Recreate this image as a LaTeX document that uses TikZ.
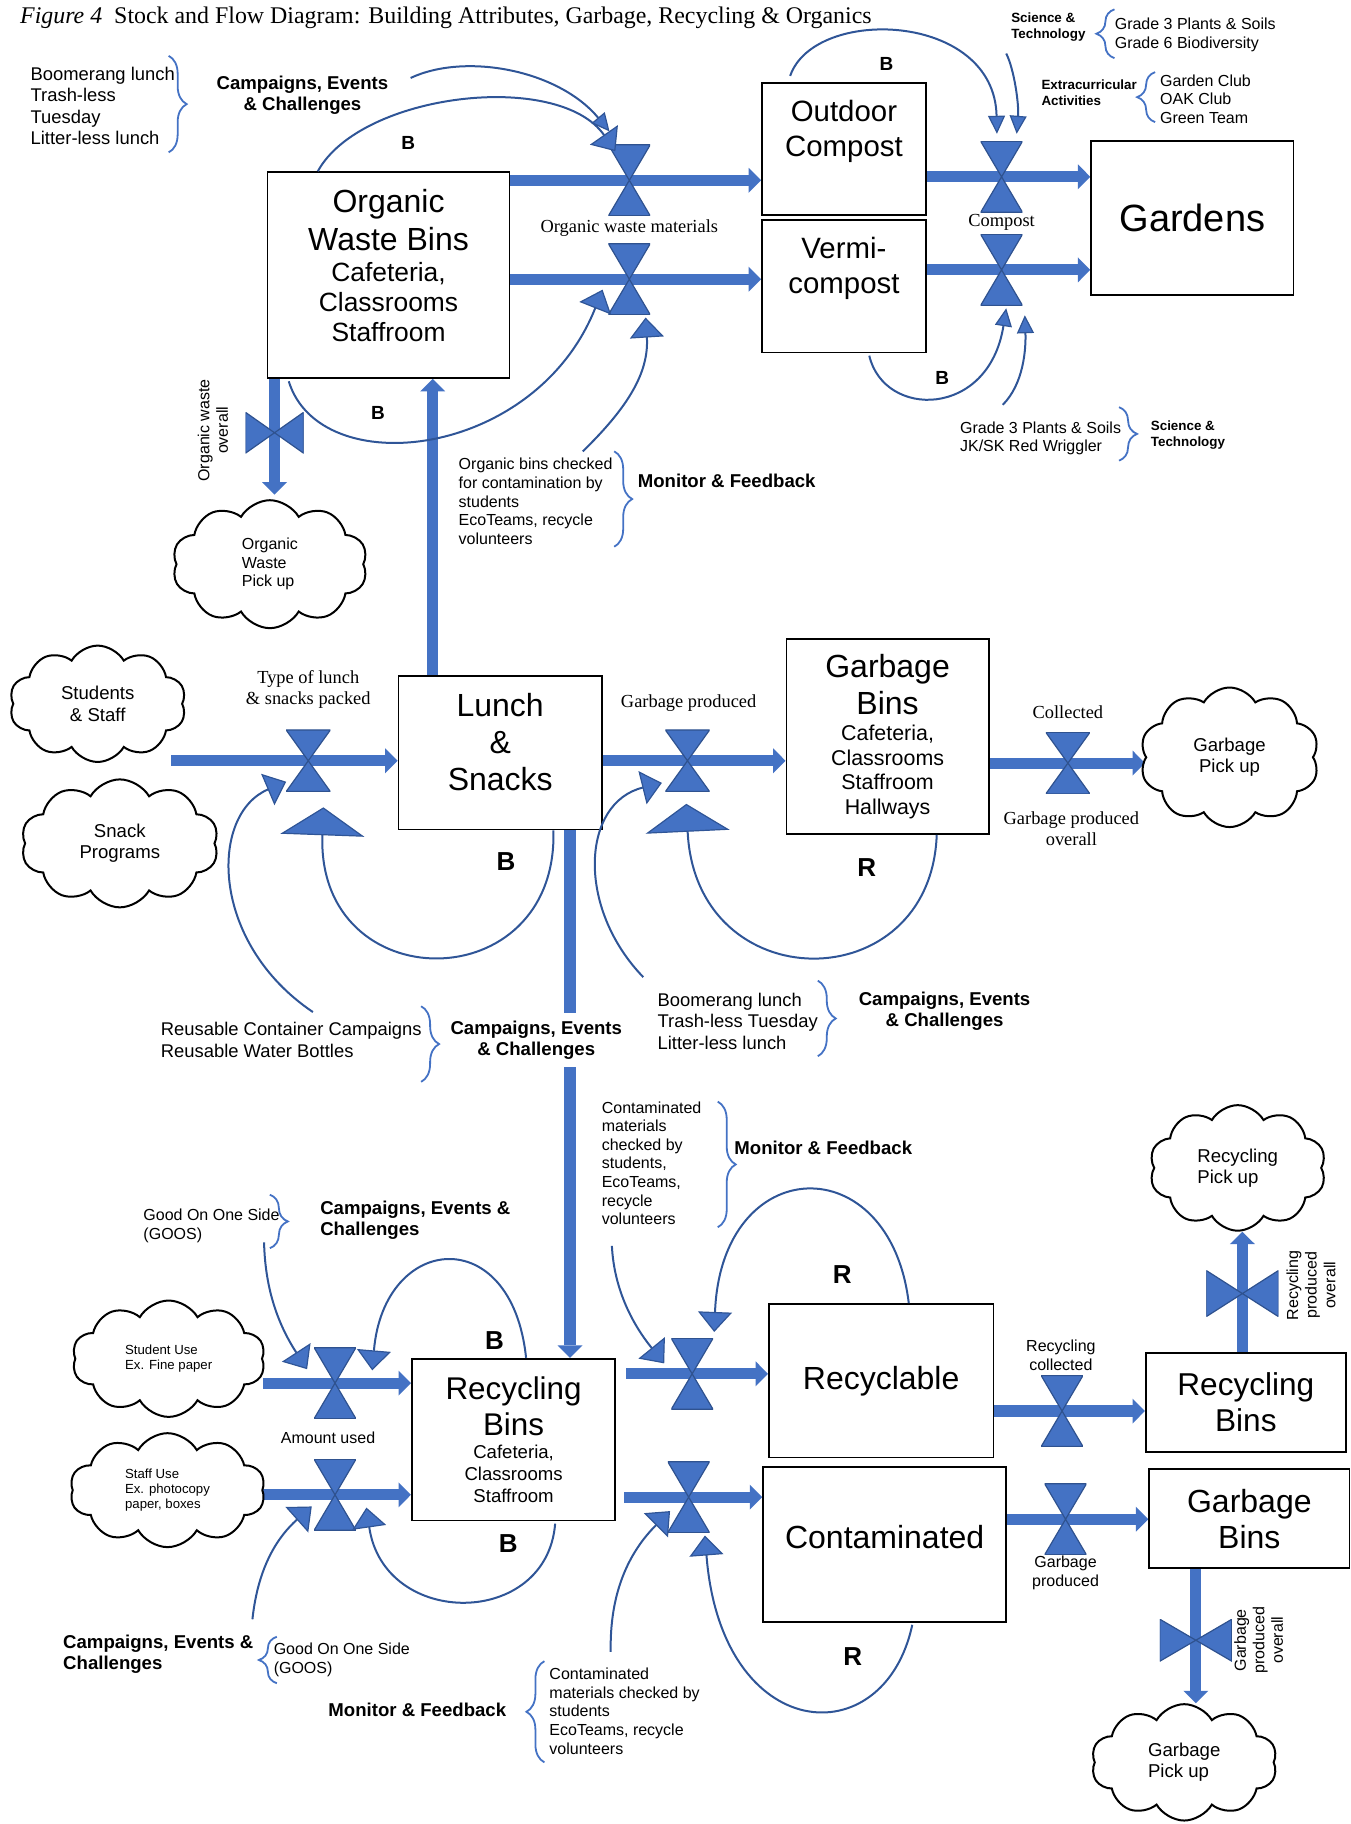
\documentclass[tikz,border=0pt]{standalone}
\usepackage{fontspec}
\setmainfont{Liberation Sans}
\newfontfamily\timesfont{Liberation Serif}
\usetikzlibrary{arrows.meta,calc,shapes.symbols,decorations.pathreplacing}
\definecolor{pipeblue}{RGB}{68,114,196}
\definecolor{pipeedge}{RGB}{47,82,143}
\definecolor{linkblue}{RGB}{47,85,151}
\newcommand{\fsz}[1]{\fontsize{#1}{#1}\selectfont}
\pgfdeclarelayer{pipes}
\pgfsetlayers{pipes,main}
\tikzset{
  stock/.style={draw, line width=0.9pt, fill=white, inner sep=0pt, align=center},
  valve/.style={inner sep=0pt, minimum width=20.9pt, minimum height=35.5pt,
    path picture={\filldraw[fill=pipeblue, draw=pipeedge, line width=0.6pt]
      (path picture bounding box.north west) -- (path picture bounding box.north east) --
      (path picture bounding box.south west) -- (path picture bounding box.south east) -- cycle;}},
  hvalve/.style={inner sep=0pt, minimum width=36pt, minimum height=23pt,
    path picture={\filldraw[fill=pipeblue, draw=pipeedge, line width=0.6pt]
      (path picture bounding box.north west) -- (path picture bounding box.south west) --
      (path picture bounding box.north east) -- (path picture bounding box.south east) -- cycle;}},
  pipe/.style={draw=pipeblue, line width=5.6pt, -{Triangle[length=6.2pt, width=12.5pt, line width=0pt]}},
  link/.style={draw=linkblue, line width=1pt, -{Triangle[length=10pt, width=17pt, fill=pipeblue, line width=0.6pt]}},
  linkthin/.style={link, -{Triangle[length=9pt, width=8.5pt, fill=pipeblue, line width=0.6pt]}},
  linkbig/.style={link, -{Triangle[length=14pt, width=42pt, fill=pipeblue, line width=0.6pt]}},
  source/.style={cloud, cloud puffs=10, cloud puff arc=120, cloud ignores aspect=true, draw, line width=1pt,
    inner sep=0pt, align=center, font=\fontsize{9.3}{10.7}\selectfont},
  grp/.style={decorate, decoration={brace, amplitude=9pt}, draw=pipeblue, line width=0.9pt},
  note/.style={inner sep=0pt, align=left, font=\fontsize{9.2}{10.6}\selectfont},
  notesm/.style={inner sep=0pt, align=left, font=\fontsize{8}{9.3}\selectfont},
  tag/.style={inner sep=0pt, align=left, font=\bfseries\fontsize{6.7}{8.1}\selectfont},
  head/.style={inner sep=0pt, align=center, font=\bfseries\fontsize{9.3}{10.5}\selectfont},
  flowlab/.style={inner sep=0pt, align=center, font=\timesfont\fontsize{9.2}{10.5}\selectfont},
  loopsign/.style={inner sep=0pt, font=\bfseries\fontsize{13}{13}\selectfont},
  loopsignsm/.style={inner sep=0pt, font=\bfseries\fontsize{9.5}{9.5}\selectfont}
}

\begin{document}
\begin{tikzpicture}[x=0.5818pt, y=-0.5818pt]
\useasboundingbox (0,0) rectangle (1161,1568);

\node[anchor=base west, inner sep=0pt, font=\timesfont\fontsize{11.95}{13}\selectfont] (title) at (17,20)
  {\itshape Figure 4\upshape\hspace{6pt}Stock and Flow Diagram: Building Attributes, Garbage, Recycling \& Organics};

% Organics
\node[stock, minimum width=121pt, minimum height=103pt, text depth=9.3pt, font=\fontsize{16}{18.6}\selectfont] (organic) at (334,236.5)
  {Organic\\Waste Bins\\[-2.9pt]\fsz{13.2}Cafeteria,\\[-3.5pt]\fsz{13.2}Classrooms\\[-3.5pt]\fsz{13.2}Staffroom};
\node[stock, minimum width=82pt, minimum height=66.3pt, text depth=21pt, font=\fontsize{14.7}{17.5}\selectfont] (outdoor) at (725.5,128) {Outdoor\\Compost};
\node[stock, minimum width=82pt, minimum height=66.3pt, text depth=21pt, font=\fontsize{14.7}{17.5}\selectfont] (vermi) at (725.5,246) {Vermi-\\compost};
\node[stock, minimum width=101.2pt, minimum height=76.8pt, font=\fontsize{19}{22}\selectfont] (gardens) at (1025,187.5) {Gardens};

\node[valve] (vA) at (541,155) {};
\node[valve] (vB) at (541,240) {};
\node[valve] (vC) at (861,152) {};
\node[valve] (vD) at (861,232) {};
\node[hvalve, minimum width=29pt, minimum height=20.4pt] (vO) at (236,372) {};
\node[source, minimum width=97.7pt, minimum height=64pt, align=left, font=\fontsize{8}{9.3}\selectfont] (orgcloud) at (232,485) {Organic\\Waste\\Pick up};

\node[note, anchor=west] (boomA) at (26,91) {Boomerang lunch\\Trash-less\\Tuesday\\Litter-less lunch};
\draw[grp] (145,48) -- (145,131);
\node[head] (campA) at (260,82) {Campaigns, Events\\\& Challenges};
\node[flowlab] (owm) at (541,196) {Organic waste materials};
\node[flowlab] (cmp) at (861,191) {Compost};
\node[tag, anchor=west] (sciA) at (869,23) {Science \&\\Technology};
\draw[grp] (958,50) -- (958,8);
\node[notesm, anchor=west] (gradeA) at (958,30) {Grade 3 Plants \& Soils\\Grade 6 Biodiversity};
\node[tag, anchor=west] (extra) at (895,80) {Extracurricular\\Activities};
\draw[grp] (993,105) -- (993,62);
\node[notesm, anchor=west] (clubs) at (997,85) {Garden Club\\OAK Club\\Green Team};
\node[notesm, anchor=west] (gradeB) at (825,377) {Grade 3 Plants \& Soils\\JK/SK Red Wriggler};
\draw[grp] (962,350) -- (962,396);
\node[tag, anchor=west] (sciB) at (989,374) {Science \&\\Technology};
\node[notesm, rotate=90, align=center] (orgover) at (183,370) {Organic waste\\overall};
\node[notesm, anchor=west] (checkA) at (394,431) {Organic bins checked\\for contamination by\\students\\EcoTeams, recycle\\volunteers};
\draw[grp] (528,388) -- (528,470);
\node[head, anchor=west] (monA) at (548,413) {Monitor \& Feedback};
\node[loopsignsm] (bOrgTop) at (351,123) {B};
\node[loopsignsm] (bOrgLow) at (325,355) {B};
\node[loopsignsm] (bOut) at (762,55) {B};
\node[loopsignsm] (bVer) at (810,325) {B};

\coordinate (campAtail) at (353,67);
\coordinate (monAtail) at (501,388);
\coordinate (sciAtail) at (865,46);
\coordinate (gradeBtail) at (862,348);
\coordinate (upL) at (372,450);

\begin{pgfonlayer}{pipes}
\draw[pipe] (organic.east |- vA) -- (outdoor.west |- vA);
\draw[pipe] (organic.east |- vB) -- (vermi.west |- vB);
\draw[pipe] (outdoor.east |- vC) -- (gardens.west |- vC);
\draw[pipe] (vermi.east |- vD) -- (gardens.west |- vD);
\draw[pipe] (organic.south -| vO) -- ($(vO |- orgcloud.north)+(0,-4)$);
\end{pgfonlayer}

\draw[linkthin] (campAtail) .. controls (400,45) and (480,60) .. ($(vA)+(-17,-42)$);
\draw[link] ($(organic.north west)+(44,0)$) .. controls (310,80) and (480,60) .. ($(vA)+(-12,-25)$);
\draw[link] ($(organic.south west)+(19,2)$) .. controls (275,415) and (460,395) .. ($(vB)+(-23,9)$);
\draw[link] (monAtail) .. controls (540,350) and (558,320) .. ($(vB)+(14,33)$);
\draw[linkthin] ($(outdoor.north west)+(25,-5)$) .. controls (700,5) and (855,10) .. ($(vC)+(-4,-37)$);
\draw[linkthin] (sciAtail) .. controls (872,60) and (876,90) .. ($(vC)+(13,-37)$);
\draw[linkthin] ($(vermi.south west)+(93,2)$) .. controls (760,360) and (850,360) .. ($(vD)+(4,33)$);
\draw[linkthin] (gradeBtail) .. controls (880,330) and (882,300) .. ($(vD)+(20,39)$);

% Lunch and garbage
\node[stock, minimum width=101.8pt, minimum height=76.8pt, text depth=10.5pt, font=\fontsize{16}{18.6}\selectfont] (lunch) at (430,647) {Lunch\\\&\\Snacks};
\node[stock, minimum width=101.2pt, minimum height=97.7pt, font=\fontsize{16}{18.6}\selectfont] (garbage) at (763,633)
  {Garbage\\Bins\\[-5.5pt]\fsz{10.7}Cafeteria,\\[-6.4pt]\fsz{10.7}Classrooms\\[-6.4pt]\fsz{10.7}Staffroom\\[-6.4pt]\fsz{10.7}Hallways};
\node[source, minimum width=88.4pt, minimum height=58.2pt] (stucloud) at (84,605) {Students\\\& Staff};
\node[source, minimum width=98.9pt, minimum height=64pt] (snackcloud) at (103,725) {Snack\\Programs};
\node[source, minimum width=89.6pt, minimum height=69.8pt] (garbcloud) at (1057,651) {Garbage\\Pick up};

\node[valve, minimum width=22.1pt, minimum height=30.8pt] (vL) at (265,654) {};
\node[valve, minimum width=22.1pt, minimum height=30.8pt] (vG) at (591,654) {};
\node[valve, minimum width=22.1pt, minimum height=30.8pt] (vT) at (918,656) {};

\node[flowlab] (typel) at (265,593) {Type of lunch\\\& snacks packed};
\node[flowlab] (gprod) at (592,604) {Garbage produced};
\node[flowlab] (coll) at (918,612) {Collected};
\node[flowlab] (gover) at (921,712) {Garbage produced\\overall};
\node[loopsign] (bLunch) at (435,741) {B};
\node[loopsign] (rGarb) at (745,746) {R};

\node[note, anchor=west] (reuse) at (138,894) {Reusable Container Campaigns\\Reusable Water Bottles};
\draw[grp] (362,865) -- (362,930);
\node[head, fill=white, inner ysep=4pt] (campB) at (461,894) {Campaigns, Events\\\& Challenges};
\node[note, anchor=west] (boomB) at (565,878) {Boomerang lunch\\Trash-less Tuesday\\Litter-less lunch};
\draw[grp] (703,843) -- (703,908);
\node[head] (campC) at (812,869) {Campaigns, Events\\\& Challenges};

\coordinate (lunchSrc) at (147,655);
\coordinate (dnL) at (490,900);
\coordinate (reuseTail) at (269,870);
\coordinate (boomBtail) at (553,840);

\begin{pgfonlayer}{pipes}
\draw[pipe] (lunchSrc |- vL) -- (lunch.west |- vL);
\draw[pipe] (lunch.east |- vG) -- (garbage.west |- vG);
\draw[pipe] (garbage.east |- vT) -- (garbcloud.west |- vT);
\draw[pipe] (lunch.north -| upL) -- (organic.south -| upL);
\end{pgfonlayer}

\draw[linkbig] ($(lunch.south west)+(134,0)$) .. controls (480,860) and (272,860) .. ($(vL)+(13,40)$);
\draw[link] (reuseTail) .. controls (180,810) and (180,700) .. ($(vL)+(-19,18)$);
\draw[linkbig] ($(garbage.south west)+(130,0)$) .. controls (800,860) and (598,860) .. ($(vG)+(-1,37)$);
\draw[link] (boomBtail) .. controls (495,780) and (500,690) .. ($(vG)+(-22,19)$);

% Recycling
\node[stock, minimum width=101.8pt, minimum height=80.9pt, font=\fontsize{15.7}{18}\selectfont] (recbins) at (441.5,1237.5)
  {Recycling\\Bins\\[-6.4pt]\fsz{9.3}Cafeteria,\\[-7.2pt]\fsz{9.3}Classrooms\\[-7.2pt]\fsz{9.3}Staffroom};
\node[stock, minimum width=112.3pt, minimum height=76.8pt, font=\fontsize{16}{18.6}\selectfont] (recyc) at (757.5,1187) {Recyclable};
\node[stock, minimum width=121.6pt, minimum height=77.4pt, text depth=7.6pt, font=\fontsize{16}{18.6}\selectfont] (contam) at (760.5,1327.5) {Contaminated};
\node[stock, minimum width=100.1pt, minimum height=49.5pt, font=\fontsize{15.8}{18}\selectfont] (recbinsR) at (1071,1205.5) {Recycling\\Bins};
\node[stock, minimum width=100.1pt, minimum height=49.5pt, font=\fontsize{16}{18}\selectfont] (garbR) at (1074,1305.5) {Garbage\\Bins};

\node[source, minimum width=96.6pt, minimum height=58.2pt, align=left, font=\fontsize{6.6}{7.8}\selectfont] (usecloud) at (145,1168) {Student Use\\Ex. Fine paper};
\node[source, minimum width=97.7pt, minimum height=57pt, align=left, font=\fontsize{6.6}{7.6}\selectfont] (staffcloud) at (144,1281) {Staff Use\\Ex. photocopy\\paper, boxes};
\node[source, minimum width=88.4pt, minimum height=62.8pt, align=left] (reccloud) at (1064,1004) {Recycling\\Pick up};
\node[source, minimum width=93pt, minimum height=58.2pt, align=left] (garbcloudB) at (1018,1515) {Garbage\\Pick up};

\node[valve] (vU) at (288,1189) {};
\node[valve] (vS) at (288,1285) {};
\node[valve] (vR) at (595,1181) {};
\node[valve] (vK) at (592,1287) {};
\node[valve] (vP) at (913,1213) {};
\node[valve] (vQ) at (916,1306) {};
\node[hvalve] (vRo) at (1068,1112) {};
\node[hvalve, minimum height=21pt] (vGo) at (1028,1410) {};

\node[notesm, anchor=west] (checkB) at (517,1000) {Contaminated\\materials\\checked by\\students,\\EcoTeams,\\recycle\\volunteers};
\draw[grp] (617,947) -- (617,1055);
\node[head, anchor=west] (monB) at (631,987) {Monitor \& Feedback};
\node[notesm, anchor=west] (goosA) at (123,1054) {Good On One Side\\(GOOS)};
\draw[grp] (232,1027) -- (232,1073);
\node[head, anchor=west, align=left] (campD) at (275,1049) {Campaigns, Events \&\\Challenges};
\node[notesm] (amt) at (282,1236) {Amount used};
\node[head, anchor=west, align=left] (campE) at (54,1422) {Campaigns, Events \&\\Challenges};
\draw[grp] (238,1447) -- (238,1407);
\node[notesm, anchor=west] (goosB) at (235,1427) {Good On One Side\\(GOOS)};
\node[head, anchor=west] (monC) at (282,1470) {Monitor \& Feedback};
\draw[grp] (468,1515) -- (468,1428);
\node[notesm, anchor=west] (checkC) at (472,1471) {Contaminated\\materials checked by\\students\\EcoTeams, recycle\\volunteers};
\node[notesm, align=center] (rcoll) at (912,1165) {Recycling\\collected};
\node[notesm, align=center] (gprodB) at (916,1352) {Garbage\\produced};
\node[notesm, rotate=90, align=center] (rover) at (1127,1105) {Recycling\\produced\\overall};
\node[notesm, rotate=90, align=center] (goverB) at (1082,1410) {Garbage\\produced\\overall};
\node[loopsign] (bRecTop) at (425,1152) {B};
\node[loopsign] (bRecLow) at (437,1327) {B};
\node[loopsign] (rRecyc) at (724,1096) {R};
\node[loopsign] (rContam) at (733,1424) {R};

\coordinate (goosAtail) at (227,1068);
\coordinate (campEtail) at (217,1392);
\coordinate (checkBtail) at (526,1071);
\coordinate (checkCtail) at (525,1420);

\begin{pgfonlayer}{pipes}
\draw[pipe] (lunch.south -| dnL) -- (recbins.north -| dnL);
\draw[pipe] (usecloud.east |- vU) -- (recbins.west |- vU);
\draw[pipe] (staffcloud.east |- vS) -- (recbins.west |- vS);
\draw[pipe] ([xshift=5pt]recbins.east |- vR) -- (recyc.west |- vR);
\draw[pipe] ([xshift=4pt]recbins.east |- vK) -- (contam.west |- vK);
\draw[pipe] (recyc.east |- vP) -- (recbinsR.west |- vP);
\draw[pipe] (contam.east |- vQ) -- (garbR.west |- vQ);
\draw[pipe] (recbinsR.north -| vRo) -- (vRo |- reccloud.south);
\draw[pipe] (garbR.south -| vGo) -- (vGo |- garbcloudB.north);
\end{pgfonlayer}

\draw[link] (goosAtail) .. controls (228,1110) and (240,1140) .. ($(vU)+(-24,-12)$);
\draw[link] ($(recbins.north west)+(99,0)$) .. controls (440,1050) and (330,1060) .. ($(vU)+(32,-11)$);
\draw[link] ($(recbins.south west)+(124,2)$) .. controls (470,1400) and (330,1400) .. ($(vS)+(27,11)$);
\draw[link] (campEtail) .. controls (222,1345) and (240,1320) .. ($(vS)+(-20,10)$);
\draw[link] (checkBtail) .. controls (528,1110) and (545,1140) .. ($(vR)+(-24,-9)$);
\draw[link] ($(recyc.north west)+(121,0)$) .. controls (765,985) and (620,990) .. ($(vR)+(19,-36)$);
\draw[link] (checkCtail) .. controls (524,1370) and (540,1335) .. ($(vK)+(-16,12)$);
\draw[link] ($(contam.south west)+(129,2)$) .. controls (760,1510) and (620,1500) .. ($(vK)+(14,33)$);
\end{tikzpicture}
\end{document}
